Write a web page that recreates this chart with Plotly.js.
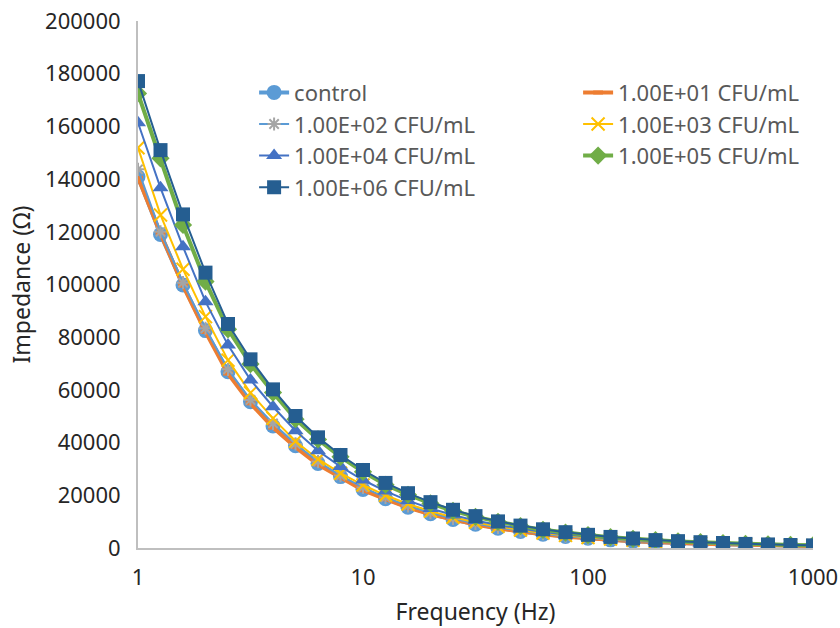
<!DOCTYPE html>
<html>
<head>
<meta charset="utf-8">
<script src="https://cdn.plot.ly/plotly-3.0.1.min.js"></script>
<style>
  html, body { margin: 0; padding: 0; background: #ffffff; }
  #chart { width: 840px; height: 628px; }
</style>
</head>
<body>
<div id="chart"></div>
<script>
// Frequency sweep: 10 points per decade, 1 Hz to 1 kHz
const freq = [1, 1.259, 1.585, 1.995, 2.512, 3.162, 3.981, 5.012, 6.310, 7.943,
  10, 12.59, 15.85, 19.95, 25.12, 31.62, 39.81, 50.12, 63.10, 79.43,
  100, 125.9, 158.5, 199.5, 251.2, 316.2, 398.1, 501.2, 631.0, 794.3, 1000];

// Impedance magnitude (Ω) for each sample
const control = [140900, 119000, 99800, 82500, 66900, 55500, 46300, 38800, 32100, 27100,
  22200, 18700, 15500, 13000, 10800, 9000, 7500, 6300, 5200, 4400,
  3700, 3100, 2600, 2200, 1900, 1600, 1400, 1200, 1050, 900, 800];
const cfu1e1 = [140500, 119400, 99600, 82000, 66200, 54900, 45700, 38300, 31700, 26700,
  21900, 18500, 15300, 12800, 10700, 8900, 7400, 6200, 5200, 4300,
  3600, 3100, 2600, 2200, 1850, 1600, 1400, 1200, 1050, 900, 800];
const cfu1e2 = [143700, 120000, 100700, 83400, 67800, 56200, 47300, 39500, 32800, 27500,
  23000, 19200, 16000, 13400, 11200, 9300, 7800, 6500, 5400, 4500,
  3800, 3200, 2700, 2300, 2000, 1700, 1450, 1250, 1100, 950, 850];
const cfu1e3 = [151900, 126400, 105800, 87800, 71300, 58900, 49200, 40500, 33700, 28400,
  23900, 20000, 16700, 14000, 11700, 9800, 8200, 6800, 5700, 4800,
  4000, 3400, 2900, 2400, 2100, 1800, 1500, 1300, 1150, 1000, 900];
const cfu1e4 = [161400, 136700, 114300, 93500, 77000, 63800, 53600, 44500, 36900, 30900,
  25800, 21600, 18000, 15000, 12500, 10400, 8700, 7300, 6100, 5100,
  4300, 3600, 3000, 2600, 2200, 1900, 1600, 1400, 1200, 1050, 950];
const cfu1e5 = [172500, 147900, 122600, 101100, 83000, 69800, 59000, 48900, 41200, 34600,
  28900, 24000, 20200, 16900, 14100, 11800, 9900, 8300, 6900, 5800,
  4900, 4100, 3500, 3000, 2500, 2200, 1850, 1550, 1350, 1150, 1000];
const cfu1e6 = [177200, 151000, 126600, 104500, 85000, 71600, 60200, 50100, 42000, 35300,
  29600, 24700, 20800, 17400, 14500, 12100, 10100, 8500, 7100, 6000,
  5000, 4200, 3600, 3000, 2600, 2200, 1900, 1550, 1350, 1150, 1000];

const seriesNames = ['control', '1.00E+01 CFU/mL', '1.00E+02 CFU/mL', '1.00E+03 CFU/mL',
  '1.00E+04 CFU/mL', '1.00E+05 CFU/mL', '1.00E+06 CFU/mL'];

const yTicks = [0, 20000, 40000, 60000, 80000, 100000, 120000, 140000, 160000, 180000, 200000];
const xTicks = [1, 10, 100, 1000];

const FONT = 'Noto Sans, sans-serif';

// Legend is split in two columns: even series on the left, odd on the right
const traces = [
  { y: control, name: seriesNames[0], legend: 'legend',
    line: { color: '#5B9BD5', width: 4 },
    marker: { symbol: 'circle', size: 15, color: '#5B9BD5' } },
  { y: cfu1e1, name: seriesNames[1], legend: 'legend2',
    line: { color: '#ED7D31', width: 4 },
    marker: { symbol: 'line-ew-open', size: 7, color: '#ED7D31', line: { color: '#ED7D31', width: 4 } } },
  { y: cfu1e2, name: seriesNames[2], legend: 'legend',
    line: { color: '#5B9BD5', width: 2 },
    marker: { symbol: 'asterisk-open', size: 11, color: '#A5A5A5', line: { color: '#A5A5A5', width: 2 } } },
  { y: cfu1e3, name: seriesNames[3], legend: 'legend2',
    line: { color: '#FFC000', width: 2 },
    marker: { symbol: 'x-thin-open', size: 13, color: '#FFC000', line: { color: '#FFC000', width: 2 } } },
  { y: cfu1e4, name: seriesNames[4], legend: 'legend',
    line: { color: '#4472C4', width: 2 },
    marker: { symbol: 'triangle-up', size: 14, color: '#4472C4' } },
  { y: cfu1e5, name: seriesNames[5], legend: 'legend2',
    line: { color: '#70AD47', width: 4 },
    marker: { symbol: 'diamond', size: 14, color: '#70AD47' } },
  { y: cfu1e6, name: seriesNames[6], legend: 'legend',
    line: { color: '#255E91', width: 2 },
    marker: { symbol: 'square', size: 14, color: '#255E91' } }
].map(t => Object.assign({ x: freq, type: 'scatter', mode: 'lines+markers' }, t));

const legendBase = {
  orientation: 'v',
  xanchor: 'left', yanchor: 'top',
  font: { family: FONT, size: 22, color: '#595959' },
  bgcolor: 'rgba(0,0,0,0)',
  traceorder: 'normal',
  tracegroupgap: 0
};

const layout = {
  width: 840, height: 628,
  paper_bgcolor: '#ffffff', plot_bgcolor: '#ffffff',
  margin: { l: 138, r: 27, t: 21, b: 80 },
  font: { family: FONT, size: 22, color: '#262626' },
  showlegend: true,
  legend: Object.assign({}, legendBase, { x: 0.172, y: 0.904 }),
  legend2: Object.assign({}, legendBase, { x: 0.652, y: 0.904 }),
  xaxis: {
    type: 'log', range: [0, 3],
    tickvals: xTicks, ticktext: xTicks.map(String),
    showgrid: false, zeroline: false,
    showline: true, linecolor: '#BFBFBF', linewidth: 2,
    ticks: '', ticklabelstandoff: 9,
    tickfont: { family: FONT, size: 22, color: '#262626' },
    title: { text: 'Frequency (Hz)', font: { family: FONT, size: 23, color: '#262626' }, standoff: 13 }
  },
  yaxis: {
    range: [0, 200000],
    tickvals: yTicks, ticktext: yTicks.map(String),
    showgrid: false, zeroline: false,
    showline: true, linecolor: '#BFBFBF', linewidth: 2,
    ticks: '', ticklabelstandoff: 11,
    tickfont: { family: FONT, size: 22, color: '#262626' },
    title: { text: 'Impedance (Ω)', font: { family: FONT, size: 23, color: '#262626' }, standoff: 8 }
  }
};

Plotly.newPlot('chart', traces, layout, { displayModeBar: false, staticPlot: true });
</script>
</body>
</html>
